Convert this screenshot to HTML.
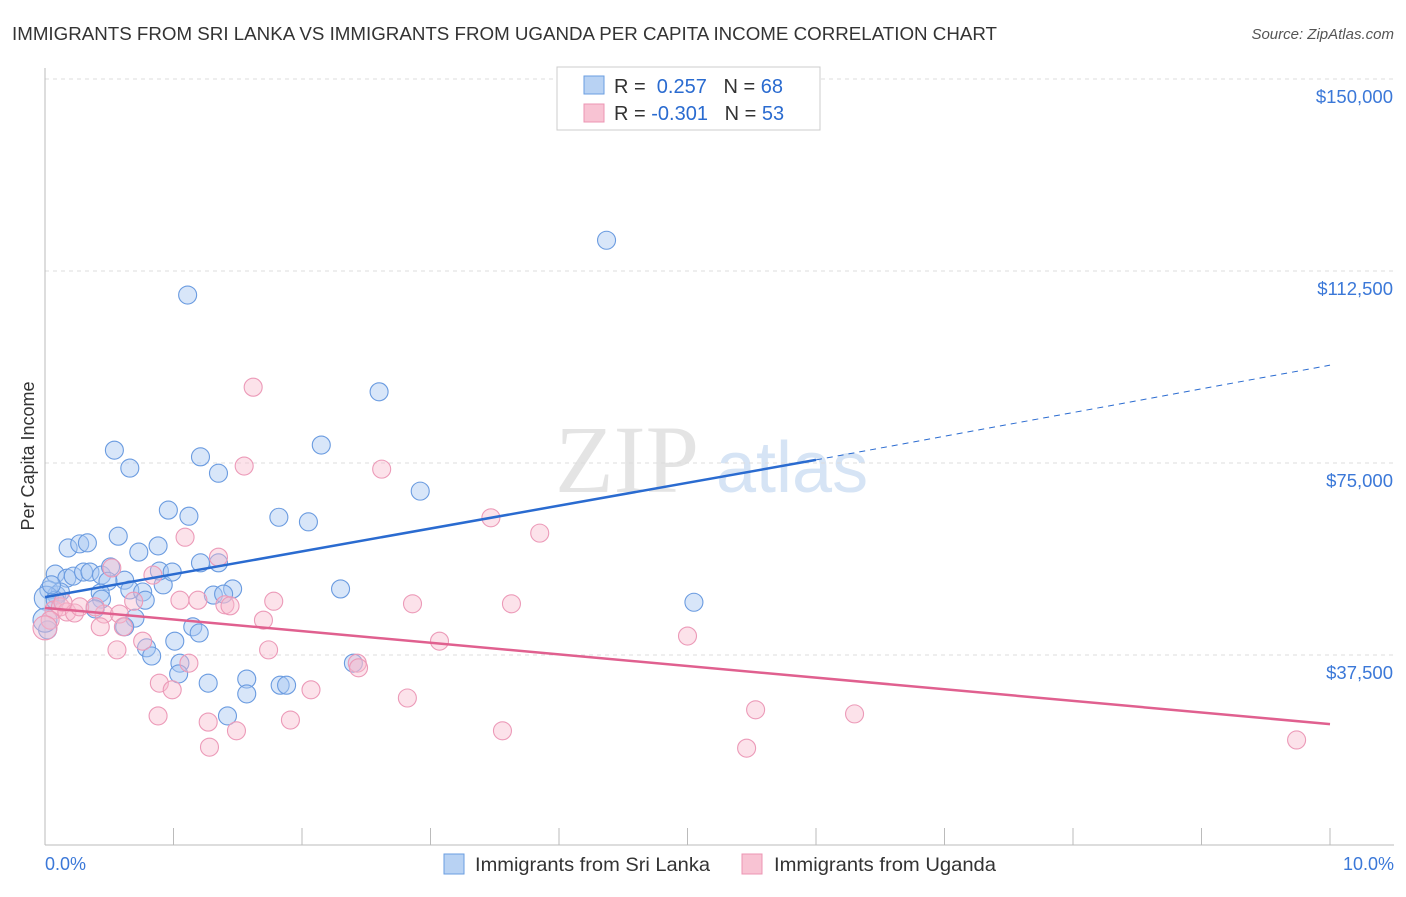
<!DOCTYPE html>
<html><head><meta charset="utf-8"><style>
body{margin:0;background:#fff;font-family:"Liberation Sans",sans-serif;}
</style></head><body>
<svg width="1406" height="892" xmlns="http://www.w3.org/2000/svg" id="svg" style="font-family:'Liberation Sans',sans-serif">
<text x="12" y="40" font-size="18" fill="#333" textLength="985" lengthAdjust="spacingAndGlyphs">IMMIGRANTS FROM SRI LANKA VS IMMIGRANTS FROM UGANDA PER CAPITA INCOME CORRELATION CHART</text>
<text x="1394" y="39" font-size="15" fill="#555" text-anchor="end" font-style="italic">Source: ZipAtlas.com</text>
<text x="555" y="492" font-size="96" fill="#e4e4e4" font-family="Liberation Serif">ZIP</text>
<text x="716" y="492" font-size="72" fill="#d6e4f5">atlas</text>
<text transform="translate(34,456) rotate(-90)" font-size="18" fill="#333" text-anchor="middle">Per Capita Income</text>
<g id="grid"></g><g id="pts"></g><g id="lines"></g>
<g>
<rect x="557" y="67" width="263" height="63" fill="#fff" stroke="#ccc"/>
<rect x="584" y="76" width="20" height="18" fill="#b8d2f3" stroke="#6a9ee0"/>
<rect x="584" y="104" width="20" height="18" fill="#f8c3d3" stroke="#ec95b3"/>
<text x="614" y="93" font-size="20" fill="#333">R = <tspan fill="#2a6bd0">&#160;0.257</tspan>&#160;&#160;&#160;N = <tspan fill="#2a6bd0">68</tspan></text>
<text x="614" y="120" font-size="20" fill="#333">R = <tspan fill="#2a6bd0">-0.301</tspan>&#160;&#160;&#160;N = <tspan fill="#2a6bd0">53</tspan></text>
</g>
<text x="45" y="870" font-size="18" fill="#3b78d8">0.0%</text>
<text x="1394" y="870" font-size="18" fill="#3b78d8" text-anchor="end">10.0%</text>
<g>
<rect x="444" y="854" width="20" height="20" fill="#b8d2f3" stroke="#6a9ee0"/>
<text x="475" y="871" font-size="19.5" fill="#333" textLength="235" lengthAdjust="spacingAndGlyphs">Immigrants from Sri Lanka</text>
<rect x="742" y="854" width="20" height="20" fill="#f8c3d3" stroke="#ec95b3"/>
<text x="774" y="871" font-size="19.5" fill="#333" textLength="222" lengthAdjust="spacingAndGlyphs">Immigrants from Uganda</text>
</g>
</svg>
<script>
const yTicks=[37500,75000,112500,150000];
const yTickLabels=["$37,500","$75,000","$112,500","$150,000"];
const xTicks=[0,1,2,3,4,5,6,7,8,9,10];
const blueX=[4.37,1.11,2.60,2.15,0.54,1.21,0.66,1.35,2.92,0.96,1.12,1.82,2.05,0.57,0.18,0.27,0.33,0.73,0.88,0.08,0.17,0.22,0.30,0.35,0.44,0.51,0.62,0.49,0.03,0.09,0.12,0.01,0.08,0.43,0.44,0.66,0.76,0.78,0.92,0.89,0.99,1.21,1.35,1.46,1.31,1.39,2.30,5.05,0.39,0.70,1.15,1.20,1.01,0.79,0.83,1.05,1.04,1.27,1.57,1.57,1.83,1.88,1.42,2.40,0.02,0.0,0.62,0.05];
const blueY=[118.5,107.8,88.9,78.5,77.5,76.2,74.0,73.0,69.5,65.8,64.6,64.4,63.5,60.7,58.4,59.2,59.4,57.6,58.8,53.3,52.5,52.9,53.7,53.7,53.1,54.7,52.1,51.9,50.2,49.2,49.8,48.6,48.2,49.6,48.4,50.2,49.8,48.2,51.2,53.9,53.7,55.5,55.5,50.4,49.2,49.4,50.4,47.8,46.5,44.7,43.0,41.8,40.2,38.9,37.3,35.9,33.8,32.0,32.8,29.9,31.6,31.6,25.6,35.9,42.4,44.3,43.0,51.2];
const pinkX=[1.62,2.62,1.55,3.47,3.85,1.09,1.35,0.52,0.84,0.69,1.05,1.19,1.40,1.44,1.78,2.86,3.63,0.07,0.12,0.17,0.23,0.27,0.46,0.58,0.43,0.61,0.56,0.76,1.70,1.74,1.12,2.43,2.44,3.07,5.00,0.89,0.99,2.07,0.88,1.27,1.49,1.91,2.82,3.56,5.53,6.30,5.46,1.28,9.74,0.04,0.0,0.14,0.39];
const pinkY=[89.8,73.8,74.4,64.3,61.3,60.5,56.6,54.5,53.1,48.0,48.2,48.2,47.3,47.1,48.0,47.5,47.5,46.3,46.9,45.9,45.7,46.9,45.5,45.5,43.0,43.0,38.5,40.2,44.3,38.5,35.9,35.9,35.0,40.2,41.2,32.0,30.7,30.7,25.6,24.4,22.7,24.8,29.1,22.7,26.8,26.0,19.3,19.5,20.9,44.3,42.8,47.8,46.9];
const blueTrend=[[0,48.8],[6.0,75.6],[10,94.1]];
const pinkTrend=[[0,46.7],[10,24.0]];
const xs=v=>45+v*128.5;
const ys=v=>847-v*1000/195.3;
const NS="http://www.w3.org/2000/svg";
function mk(t,a,p){const e=document.createElementNS(NS,t);for(const k in a)e.setAttribute(k,a[k]);p.appendChild(e);return e;}
const g=document.getElementById('grid');
yTicks.forEach((t,i)=>{
 const y=ys(t/1000);
 const l=mk('line',{x1:45,x2:1394,y1:y,y2:y,stroke:'#ddd','stroke-dasharray':'4,4'},g);
 
 
 const tx=mk('text',{x:1393,y:y+24,'font-size':18.5,fill:'#3b78d8','text-anchor':'end'},g);
 tx.textContent=yTickLabels[i];
 
 
});
const ax=mk('line',{x1:45,x2:45,y1:68,y2:845,stroke:'#bbb'},g);


const bx=mk('line',{x1:45,x2:1394,y1:845,y2:845,stroke:'#bbb'},g);


xTicks.forEach(t=>{
 const tk=mk('line',{x1:xs(t),x2:xs(t),y1:828,y2:845,stroke:'#bbb'},g);
 
 
});
const p=document.getElementById('pts');
blueX.forEach((x,i)=>{
 const c=mk('circle',{cx:xs(x),cy:ys(blueY[i]),r:(x<0.015?12:9),fill:'rgba(168,200,242,0.45)',stroke:'#6a9be0','stroke-width':1.1},p);
 
 
});
pinkX.forEach((x,i)=>{
 const c=mk('circle',{cx:xs(x),cy:ys(pinkY[i]),r:(x<0.015?12:9),fill:'rgba(247,185,205,0.42)',stroke:'#ec9ab8','stroke-width':1.1},p);
 
 
});
const L=document.getElementById('lines');
let b1=mk('line',{x1:xs(blueTrend[0][0]),y1:ys(blueTrend[0][1]),x2:xs(blueTrend[1][0]),y2:ys(blueTrend[1][1]),stroke:'#2a6bd0','stroke-width':2.5},L);


let b2=mk('line',{x1:xs(blueTrend[1][0]),y1:ys(blueTrend[1][1]),x2:xs(blueTrend[2][0]),y2:ys(blueTrend[2][1]),stroke:'#2a6bd0','stroke-width':1,'stroke-dasharray':'6,5'},L);


let p1=mk('line',{x1:xs(pinkTrend[0][0]),y1:ys(pinkTrend[0][1]),x2:xs(pinkTrend[1][0]),y2:ys(pinkTrend[1][1]),stroke:'#e0608f','stroke-width':2.5},L);


</script>
</body></html>
